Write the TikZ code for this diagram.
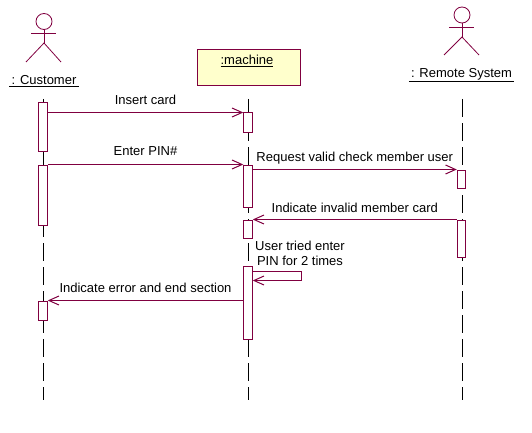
\documentclass[tikz,border=0pt]{standalone}
\usepackage{fontspec}
\setmainfont{Liberation Sans}
\usetikzlibrary{arrows.meta}
\definecolor{roseLine}{RGB}{128,0,64}
\definecolor{roseFill}{RGB}{255,255,204}
\tikzset{
    bar/.style={draw=roseLine, fill=white, line width=1pt, minimum width=8.5pt, inner sep=0pt},
    msg/.style={draw=roseLine, line width=1pt},
    lifeline/.style={draw=black, line width=1pt, dash pattern=on 18pt off 6pt},
    actorline/.style={draw=roseLine, line width=0.8pt},
    txt/.style={font=\fontsize{13}{15}\selectfont, inner sep=2pt, text=black}
}
\begin{document}
\begin{tikzpicture}[x=1pt, y=-1pt, >={Straight Barb[length=10pt, width=9pt]}]
    \useasboundingbox (0,0) rectangle (532,433);
    % lifelines
    \coordinate (custTop) at (43,99);
    \coordinate (custEnd) at (43,400);
    \coordinate (machTop) at (248,99);
    \coordinate (machEnd) at (248,400);
    \coordinate (remTop) at (462.5,99);
    \coordinate (remEnd) at (462.5,400);
    \draw[lifeline] (custTop) -- (custEnd);
    \draw[lifeline] (machTop) -- (machEnd);
    \draw[lifeline] (remTop) -- (remEnd);

    % customer actor
    \node[draw=roseLine, line width=0.8pt, circle, minimum size=16pt, inner sep=0pt] (custHead) at (44,21.5) {};
    \coordinate (custHip) at (44,43);
    \coordinate (custArmL) at (31,33);
    \coordinate (custArmR) at (56,33);
    \coordinate (custFootL) at (26,62);
    \coordinate (custFootR) at (61,62);
    \draw[actorline] (custHead.south) -- (custHip);
    \draw[actorline] (custArmL) -- (custArmR);
    \draw[actorline] (custFootL) -- (custHip) -- (custFootR);
    \node[txt] (custLabel) at (44,81) {\underline{\,: Customer\,}};

    % remote system actor
    \node[draw=roseLine, line width=0.8pt, circle, minimum size=16pt, inner sep=0pt] (remHead) at (462,15) {};
    \coordinate (remHip) at (462,37);
    \coordinate (remArmL) at (449,27);
    \coordinate (remArmR) at (474,27);
    \coordinate (remFootL) at (444,55);
    \coordinate (remFootR) at (479,55);
    \draw[actorline] (remHead.south) -- (remHip);
    \draw[actorline] (remArmL) -- (remArmR);
    \draw[actorline] (remFootL) -- (remHip) -- (remFootR);
    \node[txt] (remLabel) at (461.5,75) {\underline{\,: Remote System\,}};

    % machine object
    \node[draw=roseLine, fill=roseFill, line width=1pt, minimum width=103pt, minimum height=36.5pt, inner sep=0pt] (machBox) at (248.5,67.5) {};
    \node[txt] (machLabel) at (247,61) {\underline{:machine}};

    % activation bars
    \node[bar, minimum height=48pt] (custA) at (43,127) {};
    \node[bar, minimum height=60pt] (custB) at (43,195) {};
    \node[bar, minimum height=19pt] (custC) at (43,310.5) {};
    \node[bar, minimum height=19pt] (machA) at (248,122.5) {};
    \node[bar, minimum height=42pt] (machB) at (248,186) {};
    \node[bar, minimum height=18pt] (machC) at (248,229) {};
    \node[bar, minimum height=73pt] (machD) at (248,302.5) {};
    \node[bar, minimum height=18pt] (remA) at (461.5,179) {};
    \node[bar, minimum height=37pt] (remB) at (461.5,238.5) {};

    % messages
    \draw[msg, ->] (custA.east |- machA.north) -- (machA.north west) node[midway, above=5pt, txt] (msgInsert) {Insert card};
    \draw[msg, ->] (custB.north east) -- (machB.north west) node[midway, above=6pt, txt] (msgEnter) {Enter PIN\#};
    \draw[msg, ->] (machB.east |- remA.north) -- (remA.north west) node[midway, above=3pt, txt] (msgRequest) {Request valid check member user};
    \draw[msg, ->] (remB.north west) -- (machC.north east) node[midway, above=4pt, txt] (msgIndicate) {Indicate invalid member card};
    \coordinate (selfTop) at (301,271);
    \coordinate (selfEnd) at (301,280.5);
    \draw[msg, ->] (machD.east |- selfTop) -- (selfTop) -- (selfEnd) -- (machD.east |- selfEnd);
    \node[txt, align=center] (msgSelf) at (300,253.5) {User tried enter\\PIN for 2 times};
    \draw[msg, ->] (machD.west |- custC.north) -- (custC.north east) node[midway, above=5pt, txt] (msgError) {Indicate error and end section};
\end{tikzpicture}
\end{document}
